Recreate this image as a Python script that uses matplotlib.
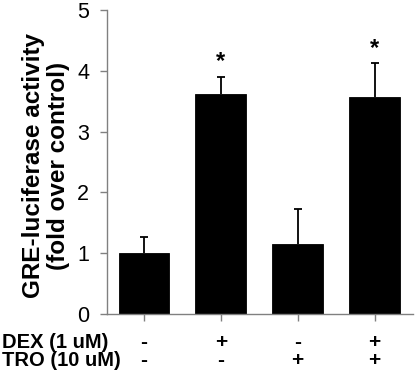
import numpy as np
import matplotlib
matplotlib.use('Agg')
import matplotlib.pyplot as plt

plt.rcParams['font.family'] = ['Liberation Sans', 'DejaVu Sans']

# data
groups = ['ctrl', 'DEX', 'TRO', 'DEX+TRO']
activity = [1.00, 3.62, 1.16, 3.56]
err_up = [0.27, 0.28, 0.56, 0.56]
stars = ['', '*', '', '*']
dex_row = ['-', '+', '-', '+']
tro_row = ['-', '-', '+', '+']
row_labels = ['DEX (1 uM)', 'TRO (10 uM)']


def make_plot():
    fig = plt.figure(figsize=(4.15, 3.78), dpi=100)
    ax = fig.add_axes([0.258, 0.169, 0.737, 0.805])

    x = np.arange(len(groups))
    ax.bar(x, activity, width=0.66, color='black', edgecolor='black', linewidth=0.6, zorder=2)
    eb = ax.errorbar(x, activity, yerr=[np.zeros(len(x)), err_up], fmt='none',
                     ecolor='black', elinewidth=1.3, capsize=3, capthick=1.3, zorder=3)
    # hide the zero-length lower caps sitting on the bar tops
    caps = eb.lines[1]
    if len(caps) > 1:
        caps[0].set_visible(False)

    for xi, top, s in zip(x, np.array(activity) + np.array(err_up), stars):
        if s:
            ax.text(xi, top + 0.25, s, ha='center', va='center', fontsize=17, fontweight='bold')

    ax.set_xlim(-0.48, 3.5)
    ax.set_ylim(0, 5)
    ax.set_yticks(range(6))
    ax.set_xticks(x)
    ax.set_xticklabels([])
    ax.tick_params(axis='y', labelsize=15.5, length=5, width=1, color='#808080', pad=8)
    ax.tick_params(axis='x', length=5, width=1, color='#808080')
    for side in ['top', 'right']:
        ax.spines[side].set_visible(False)
    for side in ['left', 'bottom']:
        ax.spines[side].set_color('#808080')
        ax.spines[side].set_linewidth(1)

    fig.text(46 / 415, 1 - 166 / 378, 'GRE-luciferase activity\n(fold over control)',
             rotation=90, ha='center', va='center', multialignment='center',
             fontsize=17.5, fontweight='bold', linespacing=1.1)

    # treatment table under the axis
    trans = matplotlib.transforms.blended_transform_factory(ax.transData, fig.transFigure)
    for row, lab, yy in [(dex_row, row_labels[0], 1 - 343 / 378), (tro_row, row_labels[1], 1 - 361 / 378)]:
        fig.text(2 / 415, yy, lab, ha='left', va='center', fontsize=14.5, fontweight='bold')
        for xi, s in zip(x, row):
            ax.text(xi, yy, s, transform=trans, ha='center', va='center',
                    fontsize=15, fontweight='bold')

    fig.savefig('out.png', dpi=100)


if __name__ == '__main__':
    make_plot()
